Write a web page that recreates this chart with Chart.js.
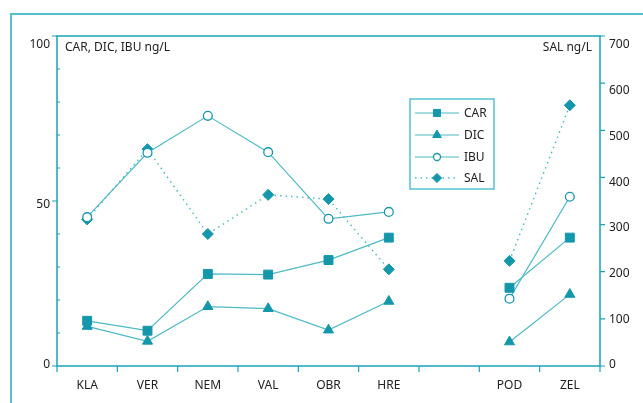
<!DOCTYPE html>
<html>
<head>
<meta charset="utf-8">
<script src="https://cdn.jsdelivr.net/npm/chart.js@4/dist/chart.umd.min.js"></script>
<style>
  html, body { margin: 0; padding: 0; background: #fff; }
  canvas { display: block; }
</style>
</head>
<body>
<canvas id="c" width="643" height="403"></canvas>
<script>
// Sampling sites (the empty slot separates the two groups)
const sites = ['KLA', 'VER', 'NEM', 'VAL', 'OBR', 'HRE', '', 'POD', 'ZEL'];

// Concentrations, ng/L
const car = [13.7, 10.7, 27.9, 27.7, 32.1, 38.9, null, 23.7, 38.9];
const dic = [12.0, 7.5, 18.0, 17.4, 10.9, 19.6, null, 7.3, 21.7];
const ibu = [45.1, 64.6, 75.8, 64.8, 44.6, 46.7, null, 20.4, 51.3];
const sal = [311, 460, 280, 363, 354, 205, null, 223, 553];

// Axis tick labels
const leftLabels = [0, 50, 100];
const rightLabels = [0, 100, 200, 300, 400, 500, 600, 700];

const MARK = '#1497aa';
const LINE = '#4dbac6';
const AXIS = '#1aa3b6';
const FRAME = '#52c2ce';
const TEXT = '#222';
const FONT = '"Noto Sans", "Open Sans", sans-serif';

const base = {
  borderColor: LINE,
  borderWidth: 1.2,
  pointHoverRadius: 5,
  pointBorderColor: MARK,
  pointBackgroundColor: MARK,
  pointBorderWidth: 1,
  spanGaps: false,
  tension: 0
};

const datasets = [
  Object.assign({}, base, { label: 'CAR', data: car, yAxisID: 'y', pointStyle: 'rect', pointRadius: 6.3, legendRadius: 5 }),
  Object.assign({}, base, { label: 'DIC', data: dic, yAxisID: 'y', pointStyle: 'triangle', pointRadius: 5.8, legendRadius: 5 }),
  Object.assign({}, base, { label: 'IBU', data: ibu, yAxisID: 'y', pointStyle: 'circle', pointBackgroundColor: '#fff', pointBorderWidth: 1.3, pointRadius: 4.4, legendRadius: 3.5 }),
  Object.assign({}, base, { label: 'SAL', data: sal, yAxisID: 'y1', pointStyle: 'rectRot', pointRadius: 5.5, legendRadius: 4.6, borderDash: [1.5, 4], borderWidth: 1.5 })
];

// Frame, plot border, axis ticks, unit titles and legend
const decor = {
  id: 'decor',
  beforeDraw(chart) {
    const ctx = chart.ctx;
    ctx.save();
    ctx.strokeStyle = FRAME;
    ctx.lineWidth = 2;
    ctx.beginPath();
    ctx.moveTo(11, 403);
    ctx.lineTo(11, 14);
    ctx.lineTo(643, 14);
    ctx.stroke();
    ctx.restore();
  },
  afterDraw(chart) {
    const ctx = chart.ctx;
    const a = chart.chartArea;
    const y = chart.scales.y, y1 = chart.scales.y1, x = chart.scales.x;
    ctx.save();
    ctx.strokeStyle = AXIS;
    ctx.lineWidth = 1.5;
    ctx.beginPath();
    ctx.rect(a.left, a.top, a.right - a.left, a.bottom - a.top);
    ctx.stroke();

    ctx.lineWidth = 1.2;
    ctx.beginPath();
    // left axis: major ticks outward, minor ticks inward
    y.ticks.forEach(t => {
      const py = y.getPixelForValue(t.value);
      if (leftLabels.includes(t.value)) {
        ctx.moveTo(a.left - 5, py); ctx.lineTo(a.left, py);
      } else {
        ctx.moveTo(a.left, py); ctx.lineTo(a.left + 3, py);
      }
    });
    // right axis ticks
    y1.ticks.forEach(t => {
      const py = y1.getPixelForValue(t.value);
      ctx.moveTo(a.right, py); ctx.lineTo(a.right + 5, py);
    });
    // category boundaries
    const step = x.getPixelForValue(1) - x.getPixelForValue(0);
    for (let i = 0; i <= sites.length; i++) {
      const px = i < sites.length ? x.getPixelForValue(i) - step / 2 : a.right;
      ctx.moveTo(px, a.bottom); ctx.lineTo(px, a.bottom + 6);
    }
    ctx.stroke();

    // unit titles
    ctx.fillStyle = TEXT;
    ctx.font = '12px ' + FONT;
    ctx.textBaseline = 'middle';
    ctx.textAlign = 'left';
    ctx.fillText('CAR, DIC, IBU ng/L', a.left + 8, 48);
    ctx.textAlign = 'right';
    ctx.fillText('SAL ng/L', a.right - 8, 48);

    // legend
    const lx = 410, ly = 99, lw = 84, lh = 90;
    ctx.strokeStyle = FRAME;
    ctx.lineWidth = 1.5;
    ctx.strokeRect(lx, ly, lw, lh);
    const rows = [113, 135, 157, 178];
    chart.data.datasets.forEach((ds, i) => {
      const ry = rows[i];
      ctx.save();
      ctx.strokeStyle = ds.borderColor;
      ctx.lineWidth = ds.borderWidth;
      ctx.setLineDash(ds.borderDash || []);
      ctx.beginPath();
      ctx.moveTo(lx + 5, ry); ctx.lineTo(lx + 49, ry);
      ctx.stroke();
      ctx.restore();
      ctx.save();
      ctx.fillStyle = ds.pointBackgroundColor;
      ctx.strokeStyle = ds.pointBorderColor;
      ctx.lineWidth = ds.pointBorderWidth;
      Chart.helpers.drawPoint(ctx, {
        pointStyle: ds.pointStyle,
        radius: ds.legendRadius,
        borderWidth: ds.pointBorderWidth,
        rotation: 0
      }, lx + 27, ry);
      ctx.restore();
      ctx.fillStyle = TEXT;
      ctx.textAlign = 'left';
      ctx.font = '12px ' + FONT;
      ctx.fillText(ds.label, lx + 54, ry + 1);
    });
    ctx.restore();
  }
};

const tickFont = { family: FONT, size: 12 };

new Chart(document.getElementById('c'), {
  type: 'line',
  data: { labels: sites, datasets },
  plugins: [decor],
  options: {
    responsive: false,
    animation: false,
    layout: { padding: { top: 36, left: 0, right: 0, bottom: 0 } },
    plugins: { legend: { display: false }, tooltip: { enabled: false } },
    scales: {
      x: {
        offset: true,
        grid: { display: false, drawTicks: false },
        border: { display: false },
        ticks: { color: TEXT, font: tickFont, padding: 12, maxRotation: 0, autoSkip: false },
        afterFit(s) { s.height = 37; }
      },
      // data scales (0–100 and 0–700 over the plot height)
      y: {
        position: 'left',
        min: 0, max: 100,
        grid: { display: false, drawTicks: false },
        border: { display: false },
        ticks: { stepSize: 10, display: false },
        afterFit(s) { s.width = 0; }
      },
      y1: {
        position: 'right',
        min: 0, max: 700,
        grid: { display: false, drawTicks: false },
        border: { display: false },
        ticks: { stepSize: 100, display: false },
        afterFit(s) { s.width = 0; }
      },
      // label scales: the printed numbers sit on a slightly shorter span
      yLab: {
        position: 'left',
        min: -0.3125, max: 102.8125,
        grid: { display: false, drawTicks: false },
        border: { display: false },
        ticks: { color: TEXT, font: tickFont, padding: 7 },
        afterBuildTicks(s) { s.ticks = leftLabels.map(v => ({ value: v })); },
        afterFit(s) { s.width = 57; }
      },
      y1Lab: {
        position: 'right',
        min: -2.1875, max: 719.6875,
        grid: { display: false, drawTicks: false },
        border: { display: false },
        ticks: { color: TEXT, font: tickFont, padding: 9 },
        afterBuildTicks(s) { s.ticks = rightLabels.map(v => ({ value: v })); },
        afterFit(s) { s.width = 43; }
      }
    }
  }
});
</script>
</body>
</html>
